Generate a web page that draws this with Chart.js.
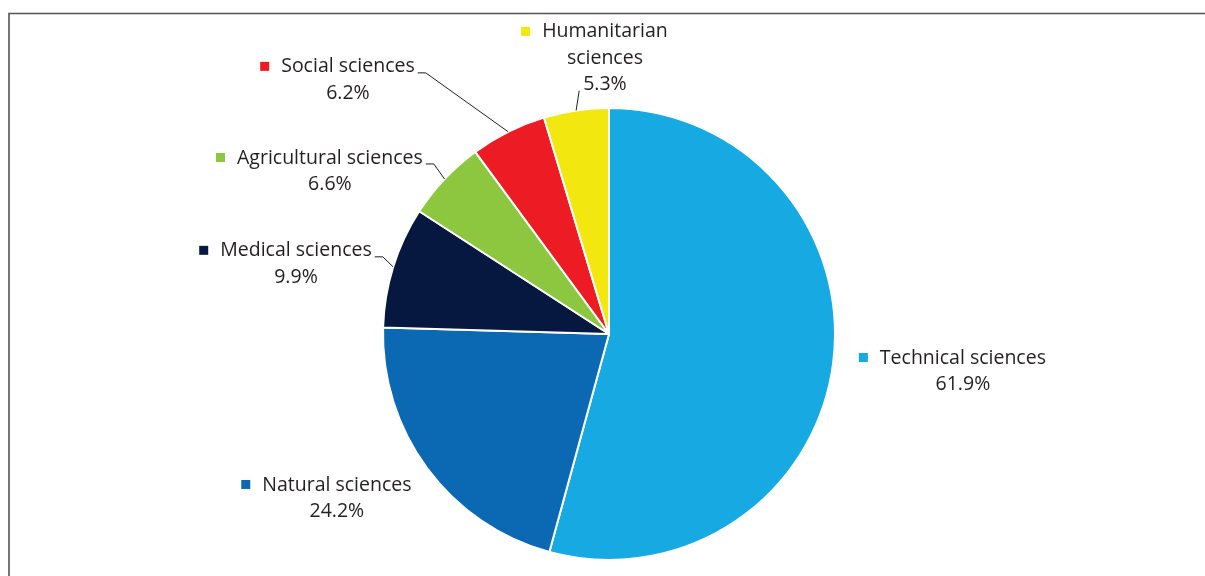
<!DOCTYPE html>
<html>
<head>
<meta charset="utf-8">
<script src="https://cdn.jsdelivr.net/npm/chart.js@4.4.1/dist/chart.umd.min.js"></script>
<style>
  html, body { margin: 0; padding: 0; background: #ffffff; }
  #wrap { position: relative; width: 1205px; height: 576px; }
  canvas { display: block; }
</style>
</head>
<body>
<div id="wrap"><canvas id="c" width="1205" height="576"></canvas></div>
<script>
// ---- data ----
const categories = ['Technical sciences', 'Natural sciences', 'Medical sciences', 'Agricultural sciences', 'Social sciences', 'Humanitarian sciences'];
const shares = [61.9, 24.2, 9.9, 6.6, 6.2, 5.3];
const labelLines = [['Technical sciences'], ['Natural sciences'], ['Medical sciences'], ['Agricultural sciences'], ['Social sciences'], ['Humanitarian', 'sciences']];

// ---- styles ----
const colors = ['#17a9e1', '#0b69b4', '#06183f', '#8dc63f', '#ed1c24', '#f2e70f'];
// label anchor (centre of first text line) relative to pie centre, in radius units
const labelOffsets = [[1.566, 0.106], [-1.204, 0.668], [-1.385, -0.368], [-1.235, -0.779], [-1.155, -1.182], [-0.018, -1.337]];
const leaderStyle = ['none', 'none', 'side', 'side', 'side', 'below'];
const FONT = '19.5px "Open Sans"';
const LINE_H = 26.5;
const TEXT_COLOR = '#231f20';

const labelsPlugin = {
  id: 'sliceLabels',
  beforeDraw(chart) {
    const ctx = chart.ctx;
    ctx.save();
    ctx.strokeStyle = '#555555';
    ctx.lineWidth = 1.6;
    ctx.beginPath();
    ctx.moveTo(9, chart.height);
    ctx.lineTo(9, 13.5);
    ctx.lineTo(chart.width, 13.5);
    ctx.stroke();
    ctx.restore();
  },
  afterDatasetsDraw(chart) {
    const ctx = chart.ctx;
    const meta = chart.getDatasetMeta(0);
    ctx.save();
    ctx.font = FONT;
    ctx.textBaseline = 'middle';
    ctx.textAlign = 'center';
    meta.data.forEach((arc, i) => {
      const p = arc.getProps(['x', 'y', 'startAngle', 'endAngle', 'outerRadius'], true);
      const mid = (p.startAngle + p.endAngle) / 2;
      const ex = p.x + Math.cos(mid) * p.outerRadius;
      const ey = p.y + Math.sin(mid) * p.outerRadius;
      const ax = p.x + labelOffsets[i][0] * p.outerRadius;
      const ay = p.y + labelOffsets[i][1] * p.outerRadius;
      const lines = labelLines[i];
      ctx.fillStyle = TEXT_COLOR;
      lines.forEach((t, k) => ctx.fillText(t, ax, ay + k * LINE_H));
      const w0 = ctx.measureText(lines[0]).width;
      const vy = ay + lines.length * LINE_H;
      const valueText = shares[i].toFixed(1) + '%';
      ctx.fillText(valueText, ax, vy);
      ctx.fillStyle = colors[i];
      ctx.fillRect(ax - w0 / 2 - 21, ay - 5, 9, 9);
      ctx.strokeStyle = TEXT_COLOR;
      ctx.lineWidth = 1;
      if (leaderStyle[i] === 'side') {
        const tx = ax + w0 / 2 + 3;
        const by = ay + 6;
        ctx.beginPath();
        ctx.moveTo(ex, ey);
        ctx.lineTo(tx + 8, by);
        ctx.lineTo(tx, by);
        ctx.stroke();
      } else if (leaderStyle[i] === 'below') {
        const vw = ctx.measureText(valueText).width;
        ctx.beginPath();
        ctx.moveTo(ex, ey);
        ctx.lineTo(ax - vw / 2 - 4, vy + 6);
        ctx.stroke();
      }
    });
    ctx.restore();
  }
};

new Chart(document.getElementById('c'), {
  type: 'pie',
  data: {
    labels: categories,
    datasets: [{
      data: shares,
      backgroundColor: colors,
      borderColor: '#ffffff',
      borderWidth: 2
    }]
  },
  options: {
    responsive: false,
    animation: false,
    layout: { padding: { top: 107, bottom: 15, left: 13, right: 0 } },
    plugins: {
      legend: { display: false },
      tooltip: { enabled: false },
      title: { display: false }
    }
  },
  plugins: [labelsPlugin]
});
</script>
</body>
</html>
